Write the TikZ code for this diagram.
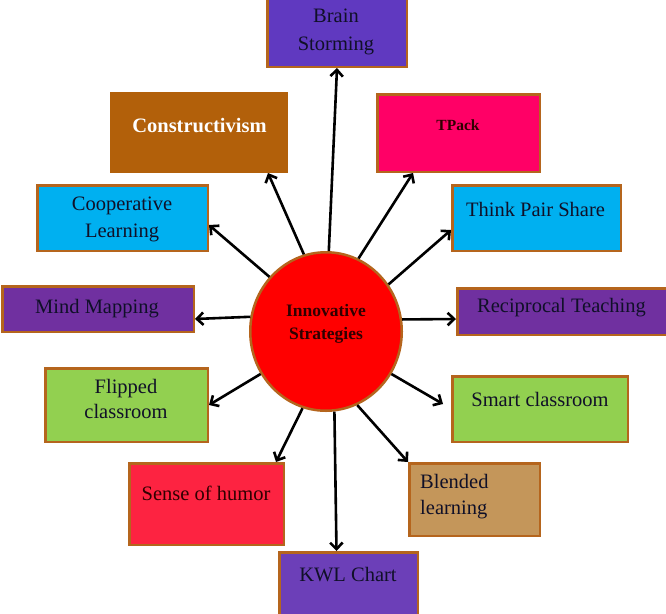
\documentclass[tikz,border=0pt]{standalone}
\usepackage{fontspec}
\setmainfont{Liberation Serif}
\usetikzlibrary{shapes.geometric,arrows.meta}
\definecolor{bord}{HTML}{B5651D}
\definecolor{purpA}{HTML}{6039C0}
\definecolor{purpB}{HTML}{7030A0}
\definecolor{purpC}{HTML}{6C3FB8}
\definecolor{consc}{HTML}{B2600A}
\definecolor{cyanc}{HTML}{00B0F0}
\definecolor{pinkc}{HTML}{FF0066}
\definecolor{greenc}{HTML}{92D050}
\definecolor{humorc}{HTML}{FD2341}
\definecolor{tanc}{HTML}{C4965A}
\definecolor{txtc}{HTML}{101028}
\definecolor{ctxt}{HTML}{300000}
\begin{document}
\begin{tikzpicture}[x=1pt,y=-1pt,
  box/.style={draw=bord,line width=2.5pt,rectangle,inner sep=0pt},
  txt/.style={anchor=base,inner sep=0pt,font=\fontsize{20.5}{24}\selectfont,text=txtc},
  arr/.style={line width=2.6pt,-{Straight Barb[length=6.5pt,width=12.5pt]}}]
\clip (0,0) rectangle (666,613);
\fill[white] (0,0) rectangle (666,613);
% boxes
\node[box,fill=purpA,minimum width=139.5pt,minimum height=70.5pt] (bs) at (337,31.5) {};
\node[box,draw=consc,fill=consc,minimum width=175.5pt,minimum height=78.5pt] (cons) at (199,132.5) {};
\node[box,fill=cyanc,minimum width=170.5pt,minimum height=65.5pt] (coop) at (122.5,218) {};
\node[box,fill=purpB,minimum width=191.5pt,minimum height=45.5pt] (mm) at (98,309) {};
\node[box,fill=pinkc,minimum width=162.5pt,minimum height=77.5pt] (tpack) at (458.5,133) {};
\node[box,fill=cyanc,minimum width=168.5pt,minimum height=65.5pt] (tps) at (536.5,218) {};
\node[box,fill=purpB,minimum width=211.5pt,minimum height=46.5pt] (recip) at (563,311.5) {};
\node[box,fill=greenc,minimum width=162.5pt,minimum height=73.5pt] (flip) at (126.5,405) {};
\node[box,fill=humorc,minimum width=154.5pt,minimum height=81.5pt] (soh) at (206.5,504) {};
\node[box,fill=purpC,minimum width=138.5pt,minimum height=64.5pt] (kwl) at (348.5,584.5) {};
\node[box,fill=greenc,minimum width=175.5pt,minimum height=65.5pt] (smart) at (540,409) {};
\node[box,fill=tanc,minimum width=130.5pt,minimum height=72.5pt] (blend) at (474.5,499.5) {};
% centre
\node[ellipse,draw=bord,line width=2.5pt,fill=red,inner sep=0pt,minimum width=151.5pt,minimum height=158.5pt] (c) at (326,331.5) {};
% texts
\node[txt] (bs1) at (336,23) {Brain};
\node[txt] (bs2) at (336,50) {Storming};
\node[txt,text=white,font=\fontsize{20.5}{24}\selectfont\bfseries] (cons1) at (199.5,132) {Constructivism};
\node[txt] (coop1) at (122,210) {Cooperative};
\node[txt] (coop2) at (122,237) {Learning};
\node[txt] (mm1) at (97,313) {Mind Mapping};
\node[txt,font=\fontsize{15.5}{18}\selectfont\bfseries,text=ctxt] (tpack1) at (458,130) {TPack};
\node[txt] (tps1) at (535.5,216) {Think Pair Share};
\node[txt] (recip1) at (561.5,312) {Reciprocal Teaching};
\node[txt] (flip1) at (126,393) {Flipped};
\node[txt] (flip2) at (126,418) {classroom};
\node[txt,text=ctxt] (soh1) at (206,500) {Sense of humor};
\node[txt] (kwl1) at (348,581) {KWL Chart};
\node[txt] (smart1) at (540,406) {Smart classroom};
\node[txt,anchor=base west] (blend1) at (420,488) {Blended};
\node[txt,anchor=base west] (blend2) at (420,514) {learning};
\node[txt,font=\fontsize{17.5}{20}\selectfont\bfseries,text=ctxt] (c1) at (326,316) {Innovative};
\node[txt,font=\fontsize{17.5}{20}\selectfont\bfseries,text=ctxt] (c2) at (326,339) {Strategies};
% arrows
\draw[arr] (c.88.6) -- (bs.south);
\draw[arr] (c.106.4) -- ([xshift=-20pt]cons.south east);
\draw[arr] (c.136.8) -- ([yshift=-7pt]coop.east);
\draw[arr] (c.169.3) -- ([yshift=-10pt]mm.east);
\draw[arr] (c.213.2) -- (flip.east);
\draw[arr] (c.253) -- ([xshift=-9pt]soh.north east);
\draw[arr] (c.276.3) -- ([xshift=-12pt]kwl.north);
\draw[arr] (c.293.5) -- (blend.north west);
\draw[arr] (c.327) -- ([xshift=-8pt,yshift=5pt]smart.west);
\draw[arr] (c.9.3) -- ([yshift=-7.5pt]recip.west);
\draw[arr] (c.37.9) -- ([yshift=-12pt]tps.west);
\draw[arr] (c.66.8) -- ([xshift=-45.5pt]tpack.south);
\end{tikzpicture}
\end{document}
